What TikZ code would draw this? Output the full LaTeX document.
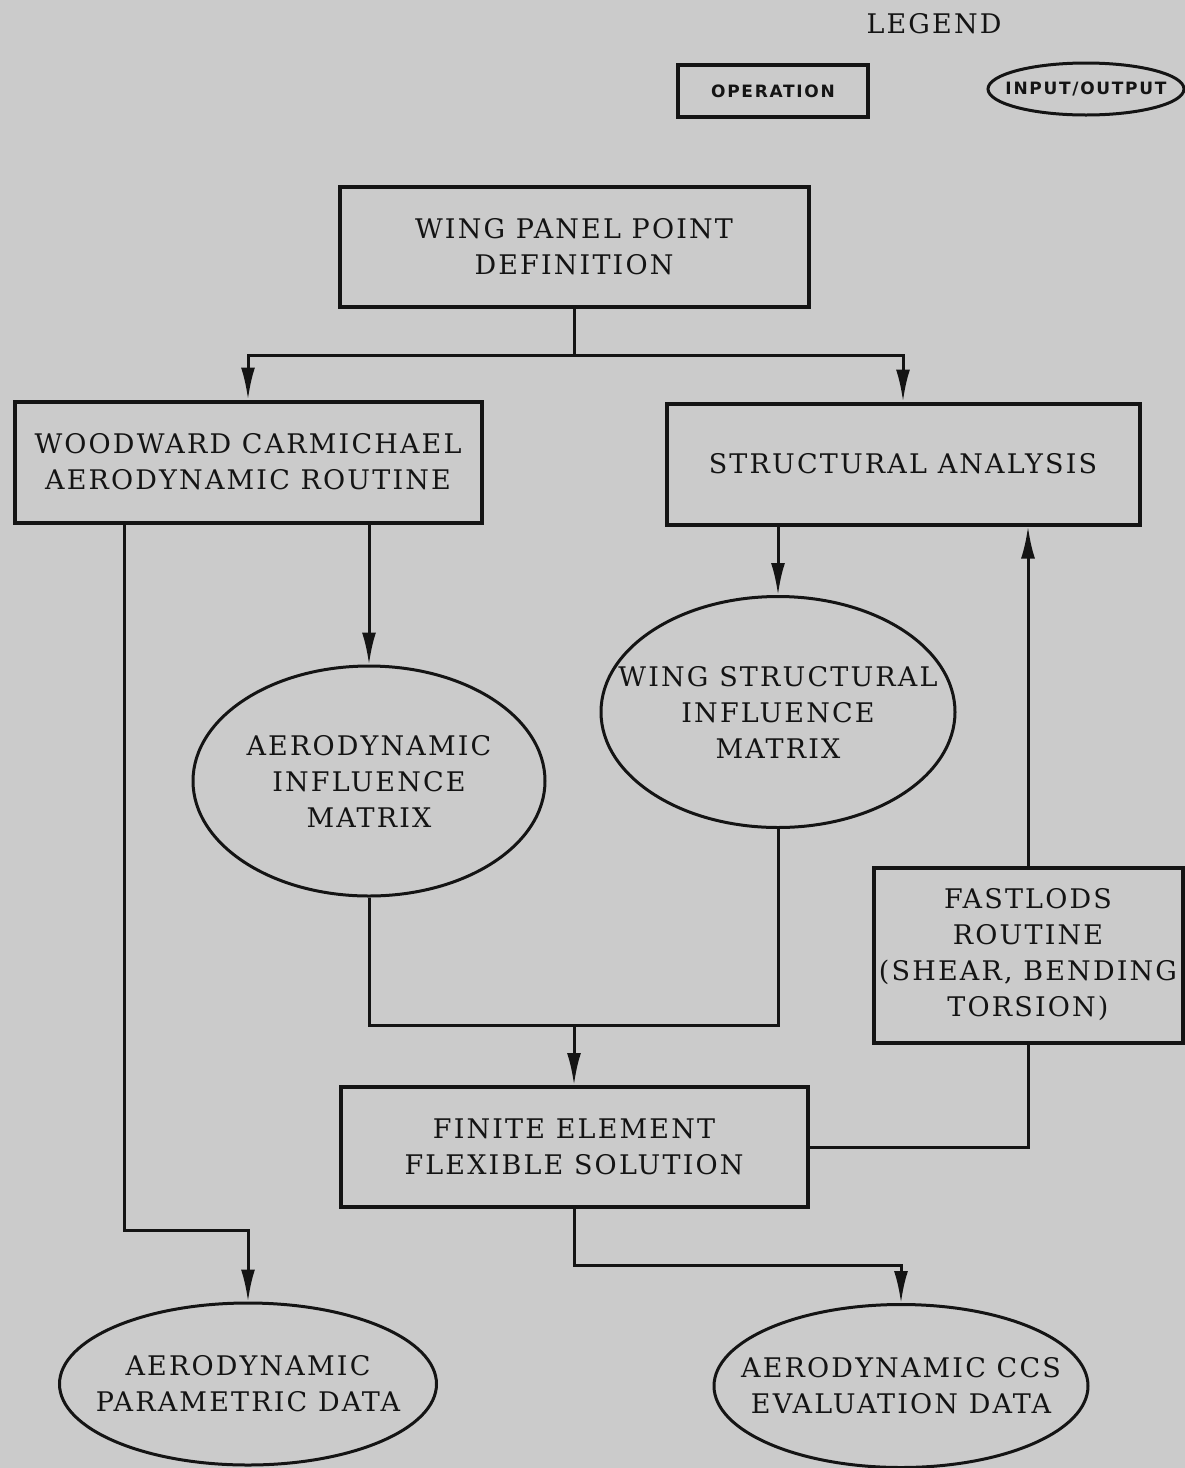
\documentclass[tikz,border=0pt]{standalone}
\usepackage{fontspec}
\newfontfamily\flowfamily{DejaVu Serif}[LetterSpace=8]
\newfontfamily\keyfamily{DejaVu Sans}[LetterSpace=10]
\usepackage{xcolor}
\usepackage{tikz}
\usetikzlibrary{arrows.meta,shapes.geometric}
\definecolor{paper}{HTML}{CBCBCB}
\definecolor{ink}{HTML}{141414}
\newcommand{\flowfont}{\flowfamily\fontsize{27}{36}\selectfont}
\newcommand{\keyfont}{\keyfamily\bfseries\fontsize{17}{20}\selectfont}
\tikzset{
  opbox/.style={
    rectangle, draw=ink, line width=4pt, text=ink,
    font=\flowfont, align=center, inner sep=0pt
  },
  ioshape/.style={
    ellipse, draw=ink, line width=3pt, text=ink,
    font=\flowfont, align=center, inner xsep=-90pt, inner ysep=-60pt
  },
  flowline/.style={draw=ink, line width=3pt},
  flowarrow/.style={
    -{Latex[length=32pt,width=14pt]}, draw=ink, line width=3pt
  },
}
\begin{document}
\begin{tikzpicture}[x=1pt, y=-1pt]
    \useasboundingbox (0,0) rectangle (1185,1468);
    \fill[paper] (0,0) rectangle (1185,1468);
    % legend
    \node[font=\flowfont, text=ink] (legend) at (934,24) {LEGEND};
    \node[opbox, font=\keyfont, line width=3.5pt, minimum width=190pt, minimum height=52pt] (legop) at (773,91) {OPERATION};
    \node[ioshape, font=\keyfont, minimum width=196pt, minimum height=52pt] (legio) at (1086,89) {INPUT/OUTPUT};
    % operations and data
    \node[opbox, minimum width=469pt, minimum height=120pt] (wppd) at (574,247) {WING PANEL POINT\\DEFINITION};
    \node[opbox, minimum width=467pt, minimum height=121pt] (woodward) at (248,462) {WOODWARD CARMICHAEL\\AERODYNAMIC ROUTINE};
    \node[opbox, minimum width=473pt, minimum height=121pt] (sa) at (903,464) {STRUCTURAL ANALYSIS};
    \node[ioshape, minimum width=352pt, minimum height=230pt] (aim) at (369,781) {AERODYNAMIC\\INFLUENCE\\MATRIX};
    \node[ioshape, minimum width=354pt, minimum height=231pt] (wsim) at (778,712) {WING STRUCTURAL\\INFLUENCE\\MATRIX};
    \node[opbox, minimum width=309pt, minimum height=175pt] (fast) at (1028,955) {FASTLODS\\ROUTINE\\(SHEAR, BENDING\\TORSION)};
    \node[opbox, minimum width=467pt, minimum height=120pt] (fefs) at (574,1147) {FINITE ELEMENT\\FLEXIBLE SOLUTION};
    \node[ioshape, minimum width=377pt, minimum height=162pt] (apd) at (248,1384) {AERODYNAMIC\\PARAMETRIC DATA};
    \node[ioshape, minimum width=374pt, minimum height=163pt] (ccs) at (901,1386) {AERODYNAMIC CCS\\EVALUATION DATA};
    % bends
    \coordinate (split) at (574,355);
    \coordinate (leftbend) at (124,1230);
    \coordinate (join) at (574,1025);
    \coordinate (lowbend) at (574,1265);
    % connectors
    \draw[flowline] (wppd.south) -- (split);
    \draw[flowarrow] (split) -| (woodward.north);
    \draw[flowarrow] (split) -| (sa.north);
    \draw[flowarrow] (aim.north |- woodward.south) -- (aim.north);
    \draw[flowarrow] (wsim.north |- sa.south) -- (wsim.north);
    \draw[flowarrow] (fast.north) -- (fast.north |- sa.south);
    \draw[flowline] (aim.south) |- (join) -| (wsim.south);
    \draw[flowarrow] (join) -- (fefs.north);
    \draw[flowline] (fefs.east) -| (fast.south);
    \draw[flowarrow] (woodward.south -| leftbend) -- (leftbend) -| (apd.north);
    \draw[flowarrow] (fefs.south) -- (lowbend) -| (ccs.north);
\end{tikzpicture}
\end{document}
